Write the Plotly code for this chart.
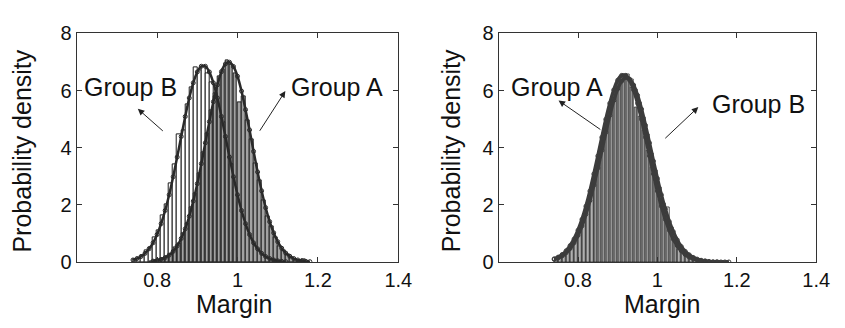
import plotly.graph_objects as go

# ---------------- data ----------------
# Left panel histograms (bin centres, bin width 0.01)
left_B_x = [0.745, 0.755, 0.765, 0.775, 0.785, 0.795, 0.805, 0.815, 0.825, 0.835,
            0.845, 0.855, 0.865, 0.875, 0.885, 0.895, 0.905, 0.915, 0.925, 0.935,
            0.945, 0.955, 0.965, 0.975, 0.985, 0.995, 1.005, 1.015, 1.025, 1.035,
            1.045, 1.055, 1.065, 1.075, 1.085, 1.095, 1.105, 1.115]
left_B_y = [0.10, 0.14, 0.22, 0.40, 0.52, 0.85, 1.10, 1.62, 2.00, 2.75,
            3.40, 4.45, 4.60, 5.50, 6.10, 6.82, 6.70, 6.85, 6.60, 6.30,
            5.90, 5.30, 4.90, 3.95, 3.40, 2.60, 2.10, 1.50, 1.20, 0.78,
            0.60, 0.35, 0.25, 0.14, 0.10, 0.06, 0.03, 0.02]

left_A_x = [0.785, 0.795, 0.805, 0.815, 0.825, 0.835, 0.845, 0.855, 0.865, 0.875,
            0.885, 0.895, 0.905, 0.915, 0.925, 0.935, 0.945, 0.955, 0.965, 0.975,
            0.985, 0.995, 1.005, 1.015, 1.025, 1.035, 1.045, 1.055, 1.065, 1.075,
            1.085, 1.095, 1.105, 1.115, 1.125, 1.135, 1.145, 1.155, 1.165, 1.175]
left_A_y = [0.02, 0.04, 0.08, 0.12, 0.20, 0.28, 0.50, 0.65, 1.00, 1.35,
            1.90, 2.40, 3.10, 3.85, 4.50, 5.30, 5.80, 6.50, 6.75, 7.05,
            6.90, 6.60, 5.60, 5.80, 4.95, 4.30, 3.45, 2.85, 2.15, 1.60,
            1.25, 0.85, 0.55, 0.40, 0.25, 0.15, 0.10, 0.06, 0.08, 0.02]

# Left panel fitted density curves
left_Bfit_x = [0.74, 0.75, 0.76, 0.77, 0.78, 0.79, 0.80, 0.81, 0.82, 0.83,
               0.84, 0.85, 0.86, 0.87, 0.88, 0.89, 0.90, 0.91, 0.92, 0.93,
               0.94, 0.95, 0.96, 0.97, 0.98, 0.99, 1.00, 1.01, 1.02, 1.03,
               1.04, 1.05, 1.06, 1.07, 1.08, 1.09, 1.10, 1.11, 1.12]
left_Bfit_y = [0.07, 0.12, 0.19, 0.30, 0.46, 0.67, 0.96, 1.34, 1.80, 2.35,
               2.98, 3.67, 4.39, 5.09, 5.74, 6.27, 6.65, 6.85, 6.85, 6.65,
               6.27, 5.74, 5.09, 4.39, 3.67, 2.98, 2.35, 1.80, 1.34, 0.96,
               0.67, 0.46, 0.30, 0.19, 0.12, 0.07, 0.04, 0.02, 0.01]

left_Afit_x = [0.79, 0.80, 0.81, 0.82, 0.83, 0.84, 0.85, 0.86, 0.87, 0.88,
               0.89, 0.90, 0.91, 0.92, 0.93, 0.94, 0.95, 0.96, 0.97, 0.98,
               0.99, 1.00, 1.01, 1.02, 1.03, 1.04, 1.05, 1.06, 1.07, 1.08,
               1.09, 1.10, 1.11, 1.12, 1.13, 1.14, 1.15, 1.16, 1.17, 1.18]
left_Afit_y = [0.03, 0.05, 0.09, 0.15, 0.24, 0.37, 0.56, 0.82, 1.16, 1.60,
               2.13, 2.74, 3.44, 4.17, 4.91, 5.61, 6.20, 6.66, 6.93, 6.99,
               6.84, 6.50, 5.98, 5.33, 4.62, 3.87, 3.15, 2.49, 1.90, 1.41,
               1.02, 0.71, 0.48, 0.31, 0.20, 0.12, 0.07, 0.04, 0.02, 0.01]

# Right panel histograms
right_x = [0.745, 0.755, 0.765, 0.775, 0.785, 0.795, 0.805, 0.815, 0.825, 0.835,
           0.845, 0.855, 0.865, 0.875, 0.885, 0.895, 0.905, 0.915, 0.925, 0.935,
           0.945, 0.955, 0.965, 0.975, 0.985, 0.995, 1.005, 1.015, 1.025, 1.035,
           1.045, 1.055, 1.065, 1.075, 1.085, 1.095, 1.105, 1.115, 1.125, 1.135,
           1.145, 1.155, 1.165, 1.175]
right_A_y = [0.10, 0.15, 0.30, 0.45, 0.62, 0.90, 1.20, 1.55, 2.10, 2.60,
             3.25, 3.90, 4.50, 5.10, 5.70, 6.15, 6.45, 6.55, 6.50, 6.10,
             5.40, 5.10, 4.60, 3.90, 3.30, 2.80, 2.20, 1.80, 1.30, 0.95,
             0.70, 0.45, 0.32, 0.20, 0.12, 0.08, 0.05, 0.03, 0.02, 0.02,
             0.01, 0.01, 0.01, 0.01]
right_B_y = [0.06, 0.10, 0.18, 0.30, 0.45, 0.68, 0.95, 1.30, 1.75, 2.30,
             2.90, 3.55, 4.20, 4.85, 5.45, 5.95, 6.30, 6.50, 6.55, 6.40,
             6.05, 5.60, 5.05, 4.45, 3.80, 3.20, 2.60, 2.05, 1.90, 1.20,
             0.85, 0.60, 0.40, 0.26, 0.16, 0.10, 0.06, 0.04, 0.02, 0.01,
             0.01, 0.01, 0.01, 0.01]

# Right panel fitted density curves
right_Afit_x = [0.74, 0.75, 0.76, 0.77, 0.78, 0.79, 0.80, 0.81, 0.82, 0.83,
                0.84, 0.85, 0.86, 0.87, 0.88, 0.89, 0.90, 0.91, 0.92, 0.93,
                0.94, 0.95, 0.96, 0.97, 0.98, 0.99, 1.00, 1.01, 1.02, 1.03,
                1.04, 1.05, 1.06, 1.07, 1.08, 1.09, 1.10, 1.11, 1.12]
right_Afit_y = [0.11, 0.17, 0.26, 0.39, 0.57, 0.80, 1.11, 1.49, 1.95, 2.48,
                3.08, 3.71, 4.36, 4.99, 5.55, 6.02, 6.36, 6.53, 6.53, 6.36,
                6.02, 5.55, 4.99, 4.36, 3.71, 3.08, 2.48, 1.95, 1.49, 1.11,
                0.80, 0.57, 0.39, 0.26, 0.17, 0.11, 0.07, 0.04, 0.02]
right_Bfit_x = [0.74, 0.75, 0.76, 0.77, 0.78, 0.79, 0.80, 0.81, 0.82, 0.83,
                0.84, 0.85, 0.86, 0.87, 0.88, 0.89, 0.90, 0.91, 0.92, 0.93,
                0.94, 0.95, 0.96, 0.97, 0.98, 0.99, 1.00, 1.01, 1.02, 1.03,
                1.04, 1.05, 1.06, 1.07, 1.08, 1.09, 1.10, 1.11, 1.12, 1.13,
                1.14, 1.15, 1.16, 1.17, 1.18]
right_Bfit_y = [0.09, 0.14, 0.21, 0.32, 0.47, 0.67, 0.93, 1.26, 1.67, 2.15,
                2.69, 3.29, 3.91, 4.54, 5.13, 5.65, 6.06, 6.33, 6.45, 6.40,
                6.19, 5.83, 5.35, 4.78, 4.17, 3.53, 2.92, 2.35, 1.85, 1.41,
                1.06, 0.77, 0.54, 0.37, 0.25, 0.16, 0.10, 0.06, 0.04, 0.02,
                0.01, 0.01, 0.00, 0.00, 0.00]

x_ticks = [0.8, 1.0, 1.2, 1.4]
x_tick_labels = ["0.8", "1", "1.2", "1.4"]
y_ticks = [0, 2, 4, 6, 8]

# ---------------- style ----------------
FONT = "Liberation Sans, Arial, sans-serif"
EDGE = "#1e1e1e"
GRAY = "#a2a2a2"
TXT = "#111111"

fig = go.Figure()

def add_bars(x, y, color, xa, ya, w, lw):
    fig.add_trace(go.Bar(x=x, y=y, width=w, xaxis=xa, yaxis=ya,
                         marker=dict(color=color, line=dict(color=EDGE, width=lw)),
                         showlegend=False))

def add_curve(x, y, xa, ya, width, color, msize):
    fig.add_trace(go.Scatter(x=x, y=y, mode="lines+markers", xaxis=xa, yaxis=ya,
                             line=dict(color=color, width=width, shape="spline"),
                             marker=dict(size=msize, color=color, symbol="circle-open",
                                         line=dict(width=1, color=color)),
                             showlegend=False))

# left panel
add_bars(left_B_x, left_B_y, "white", "x", "y", 0.01, 1)
add_bars(left_A_x, left_A_y, GRAY, "x", "y", 0.0085, 1)
add_curve(left_Bfit_x, left_Bfit_y, "x", "y", 2.5, "#2a2a2a", 4)
add_curve(left_Afit_x, left_Afit_y, "x", "y", 2.5, "#2a2a2a", 4)

# right panel
add_bars(right_x, right_B_y, "white", "x2", "y2", 0.01, 0.8)
add_bars(right_x, right_A_y, "#b0b0b0", "x2", "y2", 0.006, 0.7)
add_curve(right_Bfit_x, right_Bfit_y, "x2", "y2", 3.5, "#3c3c3c", 4)
add_curve(right_Afit_x, right_Afit_y, "x2", "y2", 3.5, "#3c3c3c", 4)

W, H = 845, 328
def px_x(p):
    return p / W
def px_y(p):
    return (H - p) / H

axis_common = dict(showline=True, linecolor="#333333", linewidth=1, mirror="ticks",
                   ticks="inside", ticklen=5, tickcolor="#333333", showgrid=False,
                   zeroline=False, tickfont=dict(family=FONT, size=20, color=TXT))

fig.update_layout(
    width=W, height=H, margin=dict(l=0, r=0, t=0, b=0),
    paper_bgcolor="white", plot_bgcolor="white", barmode="overlay", bargap=0,
    showlegend=False,
    xaxis=dict(domain=[px_x(78), px_x(405)], range=[0.6, 1.4], tickvals=x_ticks,
               ticktext=x_tick_labels, anchor="y", **axis_common),
    yaxis=dict(domain=[px_y(269), px_y(24)], range=[0, 8], tickvals=y_ticks,
               anchor="x", **axis_common),
    xaxis2=dict(domain=[px_x(507), px_x(830)], range=[0.6, 1.4], tickvals=x_ticks,
                ticktext=x_tick_labels, anchor="y2", **axis_common),
    yaxis2=dict(domain=[px_y(269), px_y(24)], range=[0, 8], tickvals=y_ticks,
                anchor="x2", **axis_common),
)

ann = []
# axis titles
for cx in (238, 673):
    ann.append(dict(text="Margin", xref="paper", yref="paper", x=px_x(cx), y=px_y(314),
                    showarrow=False, font=dict(family=FONT, size=25, color=TXT),
                    xanchor="center", yanchor="middle"))
for cx in (22, 459):
    ann.append(dict(text="Probability density", xref="paper", yref="paper", x=px_x(cx),
                    y=px_y(150), textangle=-90, showarrow=False,
                    font=dict(family=FONT, size=25, color=TXT),
                    xanchor="center", yanchor="middle"))

# group labels
labels = [("Group B", "x", "y", 0.733, 6.11), ("Group A", "x", "y", 1.248, 6.11),
          ("Group A", "x2", "y2", 0.746, 6.11), ("Group B", "x2", "y2", 1.254, 5.52)]
for t, xr, yr, lx, ly in labels:
    ann.append(dict(text=t, xref=xr, yref=yr, x=lx, y=ly, showarrow=False,
                    font=dict(family=FONT, size=25, color=TXT),
                    xanchor="center", yanchor="middle"))

# arrows (head, tail)
arrows = [("x", "y", 0.752, 5.36, 0.818, 4.54), ("x", "y", 1.119, 5.98, 1.053, 4.54),
          ("x2", "y2", 0.751, 5.65, 0.860, 4.60), ("x2", "y2", 1.103, 5.42, 1.016, 4.28)]
for xr, yr, hx, hy, tx, ty in arrows:
    ann.append(dict(text="", xref=xr, yref=yr, x=hx, y=hy, axref=xr, ayref=yr,
                    ax=tx, ay=ty, showarrow=True, arrowhead=2, arrowsize=1.3,
                    arrowwidth=1, arrowcolor="#222222"))

fig.update_layout(annotations=ann)
fig.write_html("out.html")
